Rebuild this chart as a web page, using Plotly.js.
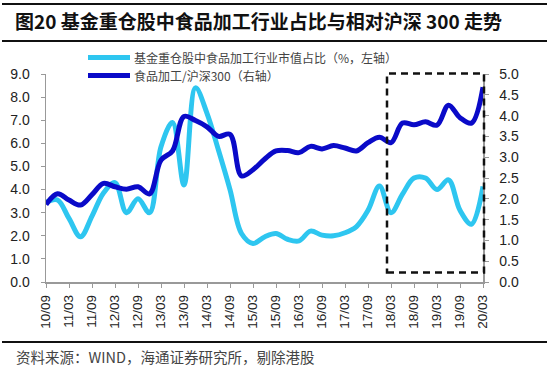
<!DOCTYPE html>
<html>
<head>
<meta charset="utf-8">
<script src="https://cdn.plot.ly/plotly-3.0.1.min.js"></script>
<style>
  html, body { margin: 0; padding: 0; background: #fff; }
  #chart { width: 550px; height: 376px; }
</style>
</head>
<body>
<div id="chart"></div>
<script>
// Quarter-end dates (YY/MM)
const quarters = [
  '10/09','10/12','11/03','11/06','11/09','11/12','12/03','12/06','12/09','12/12',
  '13/03','13/06','13/09','13/12','14/03','14/06','14/09','14/12','15/03','15/06',
  '15/09','15/12','16/03','16/06','16/09','16/12','17/03','17/06','17/09','17/12',
  '18/03','18/06','18/09','18/12','19/03','19/06','19/09','19/12','20/03'
];
// Tick labels shown on the x axis (every half-year)
const tickLabels = [
  '10/09','11/03','11/09','12/03','12/09','13/03','13/09','14/03','14/09','15/03',
  '15/09','16/03','16/09','17/03','17/09','18/03','18/09','19/03','19/09','20/03'
];
// Share of food-processing in funds' heavy holdings (%, left axis)
const fundShare = [
  3.45, 3.55, 2.75, 1.96, 2.85, 3.85, 4.30, 3.00, 3.60, 3.00,
  5.85, 6.90, 4.20, 8.40, 7.30, 5.70, 4.00, 2.10, 1.67, 1.95,
  2.10, 1.85, 1.78, 2.20, 2.03, 2.00, 2.13, 2.40, 3.10, 4.15,
  3.00, 3.80, 4.50, 4.50, 4.00, 4.42, 3.10, 2.50, 4.13
];
// Food processing / CSI 300 (right axis)
const relIndex = [
  1.86, 2.12, 1.97, 1.85, 2.10, 2.37, 2.29, 2.23, 2.29, 2.12,
  2.93, 3.15, 3.98, 3.88, 3.73, 3.50, 3.55, 2.55, 2.70, 2.95,
  3.15, 3.16, 3.11, 3.26, 3.20, 3.28, 3.22, 3.15, 3.35, 3.48,
  3.35, 3.82, 3.78, 3.85, 3.77, 4.25, 3.95, 3.82, 4.68
];
const leftTicks = [0,1,2,3,4,5,6,7,8,9];
const rightTicks = [0,0.5,1,1.5,2,2.5,3,3.5,4,4.5,5];

const seriesNames = ['基金重仓股中食品加工行业市值占比（%，左轴）', '食品加工/沪深300（右轴）'];
const seriesColors = ['#2EC6F0', '#0A0AC8'];

const traces = [
  {
    x: quarters, y: fundShare, name: seriesNames[0], type: 'scatter', mode: 'lines',
    line: { color: seriesColors[0], width: 5, shape: 'spline', smoothing: 1 },
    yaxis: 'y', showlegend: false
  },
  {
    x: quarters, y: relIndex, name: seriesNames[1], type: 'scatter', mode: 'lines',
    line: { color: seriesColors[1], width: 5, shape: 'spline', smoothing: 1 },
    yaxis: 'y2', showlegend: false
  }
];

const cjk = '"Noto Sans CJK SC", "Noto Sans", sans-serif';
const latin = '"Liberation Sans", Arial, sans-serif';

// plot area: x 46..483, y 74..282
const L = 46, R = 483, T = 74, B = 282;
const px = v => (v - L) / (R - L);
const py = v => (B - v) / (B - T);

const legendRows = [57.5, 75.5];

const shapes = [
  // top rule
  { type: 'line', xref: 'paper', yref: 'paper', x0: px(2), x1: px(547), y0: py(4), y1: py(4),
    line: { color: '#111', width: 2 } },
  // rule under title
  { type: 'line', xref: 'paper', yref: 'paper', x0: px(2), x1: px(547), y0: py(41), y1: py(41),
    line: { color: '#111', width: 2 } },
  // rule above source
  { type: 'line', xref: 'paper', yref: 'paper', x0: px(2), x1: px(547), y0: py(342), y1: py(342),
    line: { color: '#111', width: 2 } },
  // dashed highlight box
  { type: 'rect', xref: 'paper', yref: 'paper', x0: px(387), x1: px(484), y0: py(272.5), y1: py(73.5),
    line: { color: '#111', width: 2.5, dash: '7px,5px' }, fillcolor: 'rgba(0,0,0,0)', layer: 'above' }
];
const annotations = [
  {
    text: '资料来源：WIND，海通证券研究所，剔除港股',
    xref: 'paper', yref: 'paper', x: px(14), y: py(356),
    xanchor: 'left', yanchor: 'middle', showarrow: false,
    font: { family: cjk, size: 14.5, color: '#444' }
  }
];
// legend (drawn as samples + labels)
seriesNames.forEach((name, i) => {
  shapes.push({ type: 'line', xref: 'paper', yref: 'paper',
    x0: px(88), x1: px(130), y0: py(legendRows[i]), y1: py(legendRows[i]),
    line: { color: seriesColors[i], width: 5 } });
  annotations.push({ text: name, xref: 'paper', yref: 'paper',
    x: px(132), y: py(legendRows[i]), xanchor: 'left', yanchor: 'middle', showarrow: false,
    font: { family: cjk, size: 12, color: '#444' } });
});

const layout = {
  width: 550, height: 376,
  margin: { l: L, r: 550 - R, t: T, b: 376 - B, pad: 0 },
  paper_bgcolor: '#fff', plot_bgcolor: '#fff',
  showlegend: false,
  title: {
    text: '图20 基金重仓股中食品加工行业占比与相对沪深 300 走势',
    font: { family: cjk, size: 19, color: '#111', weight: 'bold' },
    xref: 'container', yref: 'container',
    x: 15 / 550, xanchor: 'left',
    y: 1 - 22 / 376, yanchor: 'middle'
  },
  xaxis: {
    type: 'category',
    range: [0, quarters.length - 1],
    tickmode: 'array', tickvals: tickLabels, ticktext: tickLabels,
    tickangle: -90,
    tickfont: { family: latin, size: 13.5, color: '#222' },
    ticks: 'outside', ticklen: 4, tickcolor: '#999', tickwidth: 1,
    ticklabelstandoff: 2,
    showline: true, linecolor: '#999', linewidth: 1.5,
    showgrid: false, zeroline: false, fixedrange: true
  },
  yaxis: {
    range: [0, 9],
    tickmode: 'array', tickvals: leftTicks,
    tickformat: '.1f',
    tickfont: { family: latin, size: 14, color: '#222' },
    ticks: 'outside', ticklen: 4, tickcolor: '#999', tickwidth: 1,
    ticklabelstandoff: 8,
    showline: true, linecolor: '#999', linewidth: 1.5,
    showgrid: false, zeroline: false, fixedrange: true
  },
  yaxis2: {
    overlaying: 'y', side: 'right',
    range: [0, 5],
    tickmode: 'array', tickvals: rightTicks,
    tickformat: '.1f',
    tickfont: { family: latin, size: 14, color: '#222' },
    ticks: 'outside', ticklen: 4, tickcolor: '#999', tickwidth: 1,
    ticklabelstandoff: 8,
    showline: true, linecolor: '#999', linewidth: 1.5,
    showgrid: false, zeroline: false, fixedrange: true
  },
  shapes: shapes,
  annotations: annotations
};

Plotly.newPlot('chart', traces, layout, { staticPlot: true, displayModeBar: false });
</script>
</body>
</html>
